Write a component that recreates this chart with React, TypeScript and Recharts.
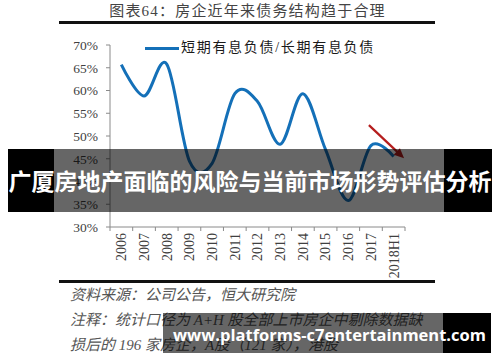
import React from 'react';
import { LineChart, Line, XAxis, YAxis, ReferenceLine, Legend } from 'recharts';

// ---------- data ----------
const titleText = '图表64：房企近年来债务结构趋于合理';
const seriesName = '短期有息负债/长期有息负债';
const categories = ['2006', '2007', '2008', '2009', '2010', '2011', '2012', '2013', '2014', '2015', '2016', '2017', '2018H1'];
const ratioValues = [65.7, 58.8, 65.8, 44.5, 44.0, 59.3, 57.6, 48.2, 59.3, 47.0, 35.8, 47.9, 45.5];
const yTicks = [30, 35, 40, 45, 50, 55, 60, 65, 70];
// trend arrow, in (category index, percent) units
const arrowFrom = { x: 11.41, y: 52.4 };
const arrowTo = { x: 12.96, y: 45.1 };
const sourceLines = [
  '资料来源：公司公告，恒大研究院',
  '注释：统计口径为 A+H 股全部上市房企中剔除数据缺',
  '损后的 196 家房企，A股（121 家），港股',
];
const bannerText = '广厦房地产面临的风险与当前市场形势评估分析';
const watermarkText = 'www.platforms-c7entertainment.com';

const chartData = categories.map((c, i) => ({ x: i + 0.5, cat: c, v: ratioValues[i] }));
const xTicks: number[] = [];
for (let i = 0; i <= categories.length; i++) {
  xTicks.push(i);
  if (i < categories.length) xTicks.push(i + 0.5);
}

// Catmull-Rom style smoothing (like Excel's smoothed line)
const smoothCurve = (context: any) => {
  let x0 = NaN, x1 = NaN, x2 = NaN, y0 = NaN, y1 = NaN, y2 = NaN, pt = 0;
  const k = 1 / 6;
  const bez = (x: number, y: number) => {
    context.bezierCurveTo(
      x1 + k * (x2 - x0), y1 + k * (y2 - y0),
      x2 + k * (x1 - x), y2 + k * (y1 - y),
      x2, y2
    );
  };
  return {
    areaStart() {},
    areaEnd() {},
    lineStart() {
      x0 = x1 = x2 = y0 = y1 = y2 = NaN;
      pt = 0;
    },
    lineEnd() {
      if (pt === 2) context.lineTo(x2, y2);
      else if (pt === 3) bez(x1, y1);
    },
    point(x: number, y: number) {
      x = +x; y = +y;
      if (pt === 0) {
        pt = 1;
        context.moveTo(x, y);
      } else if (pt === 1) {
        pt = 2;
        x1 = x; y1 = y;
      } else {
        pt = 3;
        bez(x, y);
      }
      x0 = x1; x1 = x2; x2 = x;
      y0 = y1; y1 = y2; y2 = y;
    },
  };
};

const AXIS_GRAY = '#8a8a8a';
const SERIF = "'Liberation Serif', 'Times New Roman', 'Noto Sans CJK SC', serif";
const CJK = "'Liberation Serif', 'Noto Sans CJK SC', sans-serif";

const XTick = (props: any) => {
  const { x, y, payload } = props;
  const v = payload.value as number;
  if (Number.isInteger(v)) {
    return <line x1={x} x2={x} y1={y} y2={y + 4} stroke={AXIS_GRAY} strokeWidth={1} />;
  }
  const label = categories[Math.floor(v)];
  const ty = y + 6;
  return (
    <text
      x={x}
      y={ty}
      transform={`rotate(-90 ${x} ${ty})`}
      textAnchor="end"
      dy="0.35em"
      fontFamily={SERIF}
      fontSize={14}
      fill="#404040"
    >
      {label}
    </text>
  );
};

const ArrowShape = (p: any) => {
  const { x1, y1, x2, y2 } = p;
  const ang = Math.atan2(y2 - y1, x2 - x1);
  const L = 10;
  const W = 4.5;
  const bx = x2 - L * Math.cos(ang);
  const by = y2 - L * Math.sin(ang);
  const pts = [
    [x2, y2],
    [bx + W * Math.sin(ang), by - W * Math.cos(ang)],
    [bx - W * Math.sin(ang), by + W * Math.cos(ang)],
  ]
    .map((q) => q.join(','))
    .join(' ');
  return (
    <g>
      <line x1={x1} y1={y1} x2={bx + 1 * Math.cos(ang)} y2={by + 1 * Math.sin(ang)} stroke="#b51d1d" strokeWidth={2.2} />
      <polygon points={pts} fill="#b51d1d" />
    </g>
  );
};

const LegendContent = () => (
  <div style={{ display: 'flex', alignItems: 'center', whiteSpace: 'nowrap' }}>
    <div style={{ width: 34, height: 3, background: '#1470b8', marginRight: 2 }} />
    <span
      style={{
        fontFamily: CJK,
        fontSize: 14,
        letterSpacing: 1.7,
        color: '#1a1a1a',
        lineHeight: '20px',
      }}
    >
      {seriesName}
    </span>
  </div>
);

export default function App() {
  return (
    <div
      style={{
        position: 'absolute',
        left: 0,
        top: 0,
        width: 500,
        height: 362,
        background: '#ffffff',
        overflow: 'hidden',
      }}
    >
      {/* title */}
      <div
        style={{
          position: 'absolute',
          left: 60,
          top: 2,
          width: 375,
          textAlign: 'center',
          fontFamily: CJK,
          fontSize: 15,
          letterSpacing: 1.2,
          lineHeight: '18px',
          color: '#444',
        }}
      >
        {titleText}
      </div>
      <div style={{ position: 'absolute', left: 59, top: 20.5, width: 376, height: 3, background: '#111' }} />

      <div style={{ position: 'absolute', left: 0, top: 0 }}>
        <LineChart
          width={500}
          height={362}
          data={chartData}
          margin={{ top: 45, right: 95, bottom: 80, left: 70 }}
        >
          <XAxis
            dataKey="x"
            type="number"
            domain={[0, categories.length]}
            ticks={xTicks}
            interval={0}
            tick={<XTick />}
            tickLine={false}
            tickSize={0}
            tickMargin={0}
            height={55}
            axisLine={{ stroke: AXIS_GRAY, strokeWidth: 1 }}
            allowDecimals
          />
          <YAxis
            type="number"
            domain={[30, 70]}
            ticks={yTicks}
            interval={0}
            width={40}
            tickSize={4}
            tickMargin={8}
            tickFormatter={(v: number) => `${v}%`}
            tick={{ fontFamily: SERIF, fontSize: 13.5, fill: '#404040' }}
            tickLine={{ stroke: AXIS_GRAY }}
            axisLine={{ stroke: AXIS_GRAY, strokeWidth: 1 }}
          />
          <Legend
            layout="horizontal"
            verticalAlign="middle"
            align="center"
            wrapperStyle={{ position: 'absolute', top: 38, left: 145, width: 'auto' }}
            content={<LegendContent />}
          />
          <Line
            type={smoothCurve as any}
            dataKey="v"
            name={seriesName}
            stroke="#1470b8"
            strokeWidth={3}
            dot={false}
            activeDot={false}
            isAnimationActive={false}
          />
          <ReferenceLine
            segment={[arrowFrom, arrowTo]}
            stroke="#b51d1d"
            ifOverflow="visible"
            shape={<ArrowShape />}
          />
        </LineChart>
      </div>

      {/* bottom rule */}
      <div style={{ position: 'absolute', left: 59, top: 280, width: 376, height: 2.5, background: '#111' }} />

      {/* source notes */}
      {sourceLines.map((t, i) => (
        <div
          key={i}
          style={{
            position: 'absolute',
            left: 70,
            top: 285 + i * 25,
            fontFamily: CJK,
            fontStyle: 'italic',
            fontSize: 15,
            lineHeight: '20px',
            color: '#555',
            whiteSpace: 'nowrap',
          }}
        >
          {t}
        </div>
      ))}

      {/* middle banner */}
      <div style={{ position: 'absolute', left: 8, top: 149, width: 46, height: 63, background: '#000' }} />
      <div style={{ position: 'absolute', left: 54, top: 149, width: 390, height: 63, background: 'rgba(0,0,0,0.6)' }} />
      <div style={{ position: 'absolute', left: 444, top: 149, width: 48, height: 63, background: '#000' }} />
      <div
        style={{
          position: 'absolute',
          left: 8,
          top: 149,
          width: 484,
          height: 63,
          lineHeight: '63px',
          textAlign: 'center',
          color: '#fff',
          fontWeight: 'bold',
          fontSize: 23,
          fontFamily: "'Noto Sans CJK SC', sans-serif",
          whiteSpace: 'nowrap',
        }}
      >
        {bannerText}
      </div>

      {/* bottom watermark bar */}
      <div style={{ position: 'absolute', left: 163, top: 313, width: 280, height: 40, background: 'rgba(0,0,0,0.6)' }} />
      <div style={{ position: 'absolute', left: 443, top: 313, width: 48, height: 40, background: '#000' }} />
      <div
        style={{
          position: 'absolute',
          left: 173,
          top: 313,
          height: 40,
          lineHeight: '44px',
          color: '#fff',
          fontWeight: 'bold',
          fontSize: 16.5,
          letterSpacing: 0,
          fontFamily: "'Open Sans', 'Noto Sans', sans-serif",
          whiteSpace: 'nowrap',
        }}
      >
        {watermarkText}
      </div>
    </div>
  );
}
